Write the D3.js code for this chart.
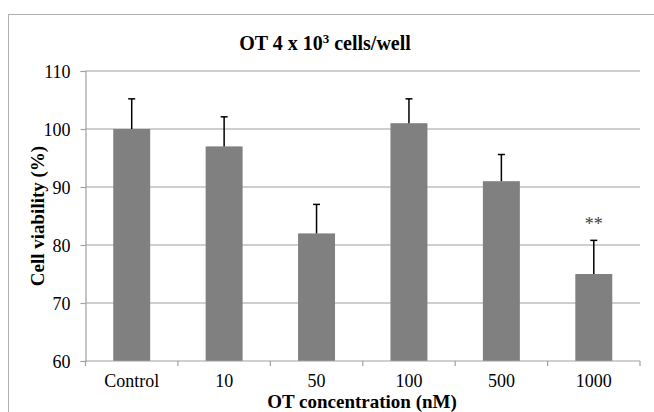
<!DOCTYPE html>
<html>
<head>
<meta charset="utf-8">
<script src="https://cdn.jsdelivr.net/npm/d3@7"></script>
<style>
  body { margin: 0; background: #fff; }
  svg { display: block; }
</style>
</head>
<body>
<svg id="chart" width="654" height="412"></svg>
<script>
const categories = ["Control", "10", "50", "100", "500", "1000"];
const values = [100, 97, 82, 101, 91, 75];
const errors = [5.2, 5.1, 5.0, 4.2, 4.6, 5.8];
const significance = ["", "", "", "", "", "**"];
const yTicks = [60, 70, 80, 90, 100, 110];
const titleMain = "OT 4 x 10";
const titleSup = "3";
const titleRest = " cells/well";
const xTitle = "OT concentration (nM)";
const yTitle = "Cell viability (%)";

const SERIF = "font-family:'Liberation Serif';";
const svg = d3.select("#chart");
const W = 654, H = 412;
const m = { left: 85.5, right: 14, top: 71, bottom: 51 };

svg.append("rect").attr("x", 8.5).attr("y", 14.5).attr("width", 700).attr("height", 500)
  .attr("fill", "none").attr("stroke", "#b0b0b0").attr("stroke-width", 1);

const x = d3.scaleBand().domain(categories).range([m.left, W - m.right]).paddingInner(0.6).paddingOuter(0.3);
const y = d3.scaleLinear().domain([60, 110]).range([H - m.bottom, m.top]);

// gridlines
svg.append("g").selectAll("line").data(yTicks.slice(1)).join("line")
  .attr("x1", m.left).attr("x2", W - m.right)
  .attr("y1", d => y(d)).attr("y2", d => y(d))
  .attr("stroke", "#a0a0a0").attr("stroke-width", 1.2);

// y axis
const yAxis = svg.append("g").attr("transform", `translate(${m.left},0)`)
  .call(d3.axisLeft(y).tickValues(yTicks).tickSize(5).tickPadding(10));
yAxis.attr("font-family", null).attr("font-size", null);
yAxis.select(".domain").attr("stroke", "#a0a0a0").attr("stroke-width", 1.2);
yAxis.selectAll(".tick line").attr("stroke", "#a0a0a0").attr("stroke-width", 1.2);
yAxis.selectAll("text").attr("style", SERIF + "font-size:18px;fill:#000").attr("dy", "0.34em");

// bars
svg.append("g").selectAll("rect").data(categories).join("rect")
  .attr("x", d => x(d)).attr("width", x.bandwidth())
  .attr("y", (d, i) => y(values[i])).attr("height", (d, i) => y(60) - y(values[i]))
  .attr("fill", "#808080");

// x axis
const step = x.step();
const boundaries = d3.range(categories.length + 1).map(i => m.left + i * step);
svg.append("line").attr("x1", m.left).attr("x2", W - m.right).attr("y1", y(60)).attr("y2", y(60))
  .attr("stroke", "#a0a0a0").attr("stroke-width", 1.2);
svg.append("g").selectAll("line").data(boundaries).join("line")
  .attr("x1", d => d).attr("x2", d => d).attr("y1", y(60)).attr("y2", y(60) + 5)
  .attr("stroke", "#a0a0a0").attr("stroke-width", 1.2);
svg.append("g").selectAll("text").data(categories).join("text")
  .attr("x", d => x(d) + x.bandwidth() / 2).attr("y", 386.5)
  .attr("text-anchor", "middle").attr("style", SERIF + "font-size:18px;fill:#000").text(d => d);

// error bars
const eb = svg.append("g").attr("stroke", "#000").attr("stroke-width", 1.5);
categories.forEach((c, i) => {
  const cx = x(c) + x.bandwidth() / 2;
  eb.append("line").attr("x1", cx).attr("x2", cx).attr("y1", y(values[i])).attr("y2", y(values[i] + errors[i]));
  eb.append("line").attr("x1", cx - 3.5).attr("x2", cx + 3.5).attr("y1", y(values[i] + errors[i])).attr("y2", y(values[i] + errors[i]));
  if (significance[i]) {
    svg.append("text").attr("x", cx).attr("y", y(values[i] + errors[i]) - 10.5)
      .attr("text-anchor", "middle").attr("style", SERIF + "font-size:18px;fill:#404040")
      .text(significance[i]);
  }
});

// title
const t = svg.append("text").attr("x", 325).attr("y", 50).attr("text-anchor", "middle")
  .attr("style", SERIF + "font-size:20px;font-weight:bold;fill:#000");
t.append("tspan").text(titleMain);
t.append("tspan").attr("style", "font-size:13px").attr("dy", -7).text(titleSup);
t.append("tspan").attr("dy", 7).text(titleRest);

// axis titles
svg.append("text").attr("x", 362).attr("y", 407.5).attr("text-anchor", "middle")
  .attr("style", SERIF + "font-size:19px;font-weight:bold;fill:#000").text(xTitle);
svg.append("text").attr("transform", `translate(44,216) rotate(-90)`).attr("text-anchor", "middle")
  .attr("style", SERIF + "font-size:19px;font-weight:bold;fill:#000").text(yTitle);
</script>
</body>
</html>
